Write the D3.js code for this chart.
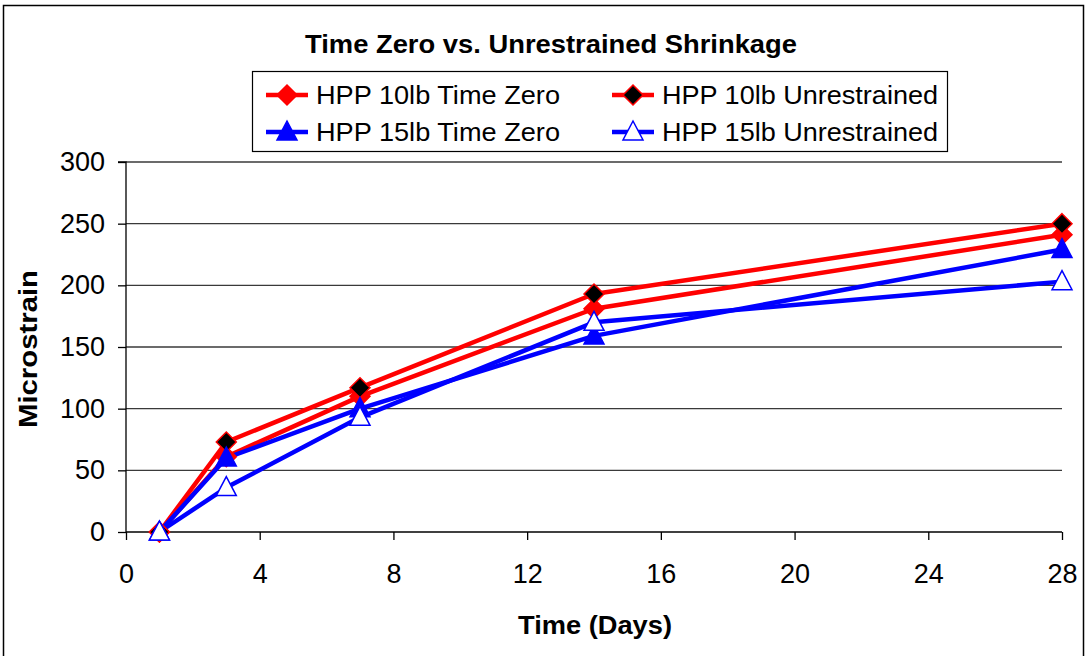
<!DOCTYPE html>
<html><head><meta charset="utf-8">
<script src="https://cdn.jsdelivr.net/npm/d3@7"></script>
<style>
html,body{margin:0;padding:0;background:#fff;}
text{font-family:"Liberation Sans",Arial,sans-serif;}
</style></head>
<body>
<svg id="chart" width="1086" height="656"></svg>
<script>
const days = [1, 3, 7, 14, 28];
const seriesNames = ["HPP 10lb Time Zero", "HPP 10lb Unrestrained", "HPP 15lb Time Zero", "HPP 15lb Unrestrained"];
const hpp10TimeZero = [0, 61, 110, 181, 241];
const hpp10Unrestrained = [0, 73, 117, 193, 250];
const hpp15TimeZero = [0, 60, 100, 159, 229];
const hpp15Unrestrained = [0, 36, 93, 170, 203];
const xTicks = [0, 4, 8, 12, 16, 20, 24, 28];
const yTicks = [0, 50, 100, 150, 200, 250, 300];

const series = [
  {name: seriesNames[0], values: hpp10TimeZero, color: "#ff0000", marker: "diamond", fill: "#ff0000", mstroke: "#ff0000", tl: 244},
  {name: seriesNames[1], values: hpp10Unrestrained, color: "#ff0000", marker: "diamond", fill: "#000000", mstroke: "#ff0000", tl: 276},
  {name: seriesNames[2], values: hpp15TimeZero, color: "#0000ff", marker: "triangle", fill: "#0000ff", mstroke: "#0000ff", tl: 244},
  {name: seriesNames[3], values: hpp15Unrestrained, color: "#0000ff", marker: "triangle", fill: "#ffffff", mstroke: "#0000ff", tl: 276}
];

const svg = d3.select("#chart");
svg.append("rect").attr("x", 3.5).attr("y", 5.5).attr("width", 1080).attr("height", 700)
  .attr("fill", "none").attr("stroke", "#000").attr("stroke-width", 1.5);

const x = d3.scaleLinear().domain([0, 28]).range([126, 1062]);
const y = d3.scaleLinear().domain([0, 300]).range([532, 162]);

svg.append("g").selectAll("line").data(yTicks.filter(d => d > 0)).join("line")
  .attr("x1", x(0)).attr("x2", x(28)).attr("y1", d => y(d)).attr("y2", d => y(d))
  .attr("stroke", "#3a3a3a").attr("stroke-width", 1.3);

const yAxis = d3.axisLeft(y).tickValues(yTicks).tickSize(8).tickPadding(13);
const gy = svg.append("g").attr("transform", `translate(${x(0)},0)`).call(yAxis);
gy.select(".domain").attr("stroke", "#000").attr("stroke-width", 1.3).attr("d", `M-8,${y(300)}H0V${y(0)}`);
gy.selectAll(".tick line").attr("stroke", "#000").attr("stroke-width", 1.3);
gy.selectAll(".tick text").attr("font-size", 27).attr("fill", "#000")
  .attr("font-family", "Liberation Sans, Arial, sans-serif");

const xAxis = d3.axisBottom(x).tickValues(xTicks).tickSize(8).tickPadding(24);
const gx = svg.append("g").attr("transform", `translate(0,${y(0)})`).call(xAxis);
gx.select(".domain").attr("stroke", "#000").attr("stroke-width", 1.3).attr("d", `M${x(0)},0H${x(28)}`);
gx.selectAll(".tick line").attr("stroke", "#000").attr("stroke-width", 1.3);
gx.selectAll(".tick text").attr("font-size", 27).attr("fill", "#000")
  .attr("font-family", "Liberation Sans, Arial, sans-serif");

const line = d3.line().x((d, i) => x(days[i])).y(d => y(d));
series.forEach(s => {
  svg.append("path").datum(s.values).attr("d", line).attr("fill", "none")
    .attr("stroke", s.color).attr("stroke-width", 4.5).attr("stroke-linejoin", "round");
});

function markerPath(type) {
  if (type === "diamond") return "M0,-10L10,0L0,10L-10,0Z";
  return "M0,-11L10,8L-10,8Z";
}
series.forEach(s => {
  svg.append("g").selectAll("path").data(s.values).join("path")
    .attr("d", markerPath(s.marker))
    .attr("transform", (d, i) => `translate(${x(days[i])},${y(d)})`)
    .attr("fill", s.fill).attr("stroke", s.mstroke).attr("stroke-width", 1.5);
});

svg.append("text").attr("x", 551).attr("y", 53).attr("text-anchor", "middle")
  .attr("font-size", 26).attr("font-weight", "bold")
  .attr("textLength", 492).attr("lengthAdjust", "spacingAndGlyphs")
  .text("Time Zero vs. Unrestrained Shrinkage");
svg.append("text").attr("x", 595).attr("y", 634).attr("text-anchor", "middle")
  .attr("font-size", 26).attr("font-weight", "bold")
  .attr("textLength", 154).attr("lengthAdjust", "spacingAndGlyphs")
  .text("Time (Days)");
svg.append("text").attr("transform", "translate(37,349) rotate(-90)").attr("text-anchor", "middle")
  .attr("font-size", 26).attr("font-weight", "bold")
  .attr("textLength", 158).attr("lengthAdjust", "spacingAndGlyphs")
  .text("Microstrain");

svg.append("rect").attr("x", 252.5).attr("y", 71.5).attr("width", 695).attr("height", 80)
  .attr("fill", "#fff").attr("stroke", "#000").attr("stroke-width", 1.2);
const legPos = [[266, 95], [612, 95], [266, 132], [612, 132]];
series.forEach((s, i) => {
  const [lx, ly] = legPos[i];
  const g = svg.append("g");
  g.append("line").attr("x1", lx).attr("x2", lx + 42).attr("y1", ly).attr("y2", ly)
    .attr("stroke", s.color).attr("stroke-width", 4.5);
  g.append("path").attr("d", markerPath(s.marker)).attr("transform", `translate(${lx + 21},${ly})`)
    .attr("fill", s.fill).attr("stroke", s.mstroke).attr("stroke-width", 1.5);
  g.append("text").attr("x", lx + 50).attr("y", ly + 9).attr("font-size", 26)
    .attr("textLength", s.tl).attr("lengthAdjust", "spacingAndGlyphs").text(s.name);
});
</script>
</body></html>
